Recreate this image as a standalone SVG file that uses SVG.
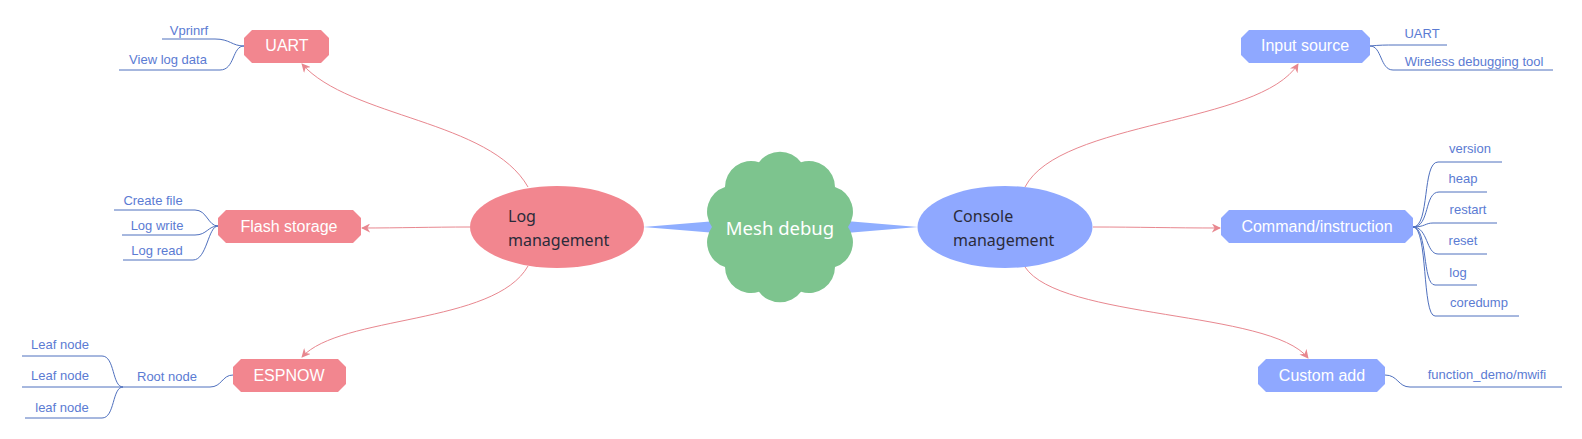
<svg xmlns="http://www.w3.org/2000/svg" width="1582" height="439" viewBox="0 0 1582 439">
<style>
.red{fill:#F2868F}
.blue{fill:#8FA8FF}
.nt{font-family:"Liberation Sans",Arial,sans-serif;font-size:16px;fill:#ffffff;text-anchor:middle}
.et{font-family:"Noto Sans",sans-serif;font-size:16px;fill:#2b2b3a}
.bt{font-family:"Liberation Sans",Arial,sans-serif;font-size:13px;fill:#5B7BD3;text-anchor:middle}
.br{fill:none;stroke:#4F70BE;stroke-width:1}
.cn{fill:none;stroke:#E8878F;stroke-width:1;marker-end:url(#ah)}
</style>
<defs>
<marker id="ah" viewBox="0 0 10 10" refX="9" refY="5" markerWidth="9" markerHeight="9" markerUnits="userSpaceOnUse" orient="auto">
<path d="M0,0 L10,5 L0,10 L3,5 Z" fill="#E8878F"/>
</marker>
</defs>
<rect width="1582" height="439" fill="#ffffff"/>

<g id="connectors">
<path d="M643,227 Q680,224 716,221 L716,233 Q680,230 643,227 Z" fill="#8FAEFF"/>
<path d="M918,227 Q882,224 846,221 L846,233 Q882,230 918,227 Z" fill="#8FAEFF"/>
<path class="cn" d="M528,187 C490,120 350,118 302,64"/>
<path class="cn" d="M470,227 C430,227 400,228 362,228"/>
<path class="cn" d="M528,266 C495,325 340,315 302,357"/>
<path class="cn" d="M1025,187 C1060,120 1260,125 1298,64"/>
<path class="cn" d="M1093,227 C1140,227 1170,228 1220,228"/>
<path class="cn" d="M1025,267 C1060,320 1270,310 1308,358"/>
<!-- branches -->
<path class="br" d="M162,39 H215 C230,39 232,46 244,46"/>
<path class="br" d="M119,70 H220 C235,70 232,46 244,46"/>
<path class="br" d="M114,210 H195 C207,210 208,226 218,226"/>
<path class="br" d="M122,235 H195 C207,235 208,226 218,226"/>
<path class="br" d="M123,260 H193 C207,260 208,226 218,226"/>
<path class="br" d="M123,387 H210 C222,387 222,375 233,375"/>
<path class="br" d="M22,356 H102 C115,356 112,387 123,387"/>
<path class="br" d="M22,387 H123"/>
<path class="br" d="M25,418 H102 C115,418 112,387 123,387"/>
<path class="br" d="M1370,46 C1380,45 1385,45 1395,45 H1447"/>
<path class="br" d="M1370,46 C1382,46 1380,70 1393,70 H1553"/>
<path class="br" d="M1413,227 C1430,227 1422,162 1438,162 H1502"/>
<path class="br" d="M1413,227 C1430,227 1424,192 1439,192 H1487"/>
<path class="br" d="M1413,227 C1425,227 1425,223 1433,223 H1497"/>
<path class="br" d="M1413,227 C1428,227 1426,254 1438,254 H1487"/>
<path class="br" d="M1413,227 C1428,227 1422,285 1435,285 H1477"/>
<path class="br" d="M1413,227 C1428,227 1422,316 1435,316 H1519"/>
<path class="br" d="M1385,375 C1398,375 1398,387 1410,387 H1562"/>
</g>

<g id="mesh-debug">
<path d="M759,162.3 A26,26 0 0 1 801,162.3 A26,26 0 0 1 835,187 A26,26 0 0 1 848,227 A26,26 0 0 1 835,267 A26,26 0 0 1 801,291.7 A26,26 0 0 1 759,291.7 A26,26 0 0 1 725,267 A26,26 0 0 1 712,227 A26,26 0 0 1 725,187 A26,26 0 0 1 759,162.3 Z" fill="#7DC48E"/>
<text x="780" y="235" font-family="'Noto Sans',sans-serif" font-size="18.5" fill="#ffffff" text-anchor="middle">Mesh debug</text>
</g>

<g id="log-management">
<ellipse cx="557" cy="227" rx="87" ry="41" class="red"/>
<text class="et" x="508" y="222">Log</text>
<text class="et" x="508" y="246">management</text>
</g>

<g id="console-management">
<ellipse cx="1005" cy="227" rx="87.5" ry="41" class="blue"/>
<text class="et" x="953" y="222">Console</text>
<text class="et" x="953" y="246">management</text>
</g>

<g id="uart">
<polygon class="red" points="252,30 321,30 329,38 329,55 321,63 252,63 244,55 244,38"/>
<text class="nt" x="287" y="51">UART</text>
</g>
<g id="flash-storage">
<polygon class="red" points="226,210 353,210 361,218 361,235 353,243 226,243 218,235 218,218"/>
<text class="nt" x="289" y="232">Flash storage</text>
</g>
<g id="espnow">
<polygon class="red" points="241,359 338,359 346,367 346,384 338,392 241,392 233,384 233,367"/>
<text class="nt" x="289" y="381">ESPNOW</text>
</g>
<g id="input-source">
<polygon class="blue" points="1249,30 1362,30 1370,38 1370,55 1362,63 1249,63 1241,55 1241,38"/>
<text class="nt" x="1305" y="51">Input source</text>
</g>
<g id="command-instruction">
<polygon class="blue" points="1229,210 1405,210 1413,218 1413,235 1405,243 1229,243 1221,235 1221,218"/>
<text class="nt" x="1317" y="232">Command/instruction</text>
</g>
<g id="custom-add">
<polygon class="blue" points="1266,359 1377,359 1385,367 1385,384 1377,392 1266,392 1258,384 1258,367"/>
<text class="nt" x="1322" y="381">Custom add</text>
</g>

<g id="labels">
<text class="bt" x="189" y="35">Vprinrf</text>
<text class="bt" x="168" y="64">View log data</text>
<text class="bt" x="153" y="205">Create file</text>
<text class="bt" x="157" y="230">Log write</text>
<text class="bt" x="157" y="255">Log read</text>
<text class="bt" x="60" y="349">Leaf node</text>
<text class="bt" x="60" y="380">Leaf node</text>
<text class="bt" x="62" y="412">leaf node</text>
<text class="bt" x="167" y="381">Root node</text>
<text class="bt" x="1422" y="38">UART</text>
<text class="bt" x="1474" y="66">Wireless debugging tool</text>
<text class="bt" x="1470" y="153">version</text>
<text class="bt" x="1463" y="183">heap</text>
<text class="bt" x="1468" y="214">restart</text>
<text class="bt" x="1463" y="245">reset</text>
<text class="bt" x="1458" y="277">log</text>
<text class="bt" x="1479" y="307">coredump</text>
<text class="bt" x="1487" y="379">function_demo/mwifi</text>
</g>
</svg>
